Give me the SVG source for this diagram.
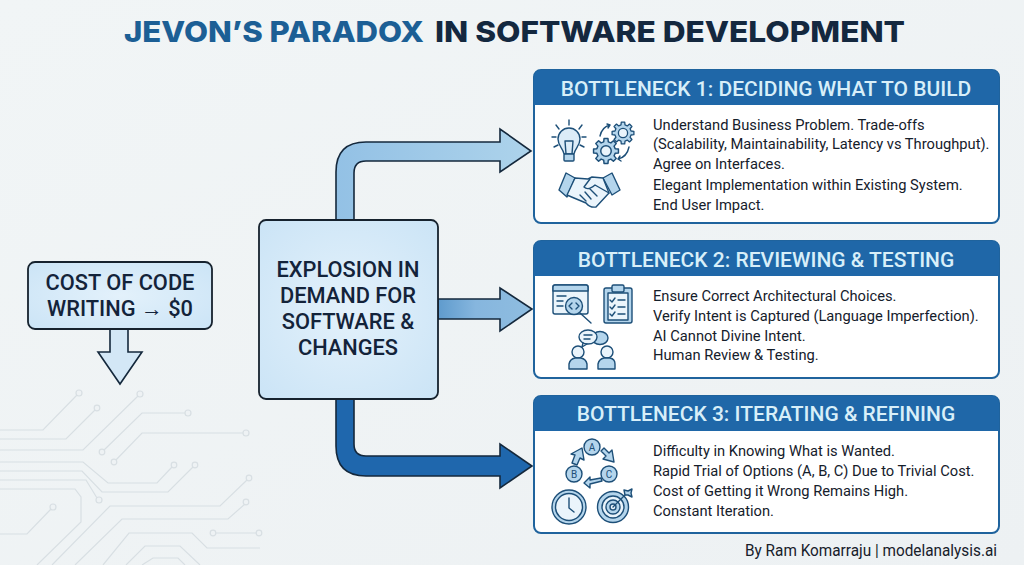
<svg xmlns="http://www.w3.org/2000/svg" width="1024" height="565" viewBox="0 0 1024 565">
<style>
.sans{font-family:"Roboto","Liberation Sans",sans-serif}
.title{font-family:"Inter","Liberation Sans",sans-serif;font-size:29px;font-weight:800}
.hdr{font-family:"Roboto","Liberation Sans",sans-serif;font-size:21px;font-weight:500;fill:#d8eff9;text-anchor:middle}
.body{font-family:"Roboto","Liberation Sans",sans-serif;font-size:14.7px;fill:#15202b}
.big{font-family:"Roboto","Liberation Sans",sans-serif;font-size:21.8px;font-weight:500;fill:#13233a;text-anchor:middle}
.panel{fill:#fff;stroke:#1f639d;stroke-width:2}
.head{fill:#1f67a8}
.arrow{stroke:#14283c;stroke-width:1.6;stroke-linejoin:miter}
.box{fill:url(#boxfill);stroke:#16222e;stroke-width:1.8}
.circ{fill:none;stroke:#d8dfe3;stroke-width:1.2}
.circ circle{fill:#eef2f4}
.ic{fill:#b4d5ec;stroke:#1d4f78;stroke-width:1.4;stroke-linejoin:round;stroke-linecap:round}
.il{fill:none;stroke:#1d4f78;stroke-width:1.4;stroke-linecap:round;stroke-linejoin:round}
.iw{fill:#eaf4fb;stroke:#1d4f78;stroke-width:1.4;stroke-linejoin:round}
</style>
<defs>
<linearGradient id="bg" x1="0" y1="0" x2="1" y2="1"><stop offset="0" stop-color="#f1f5f6"/><stop offset="1" stop-color="#edf1f3"/></linearGradient>
<radialGradient id="boxfill" cx="0.5" cy="0.5" r="0.7"><stop offset="0" stop-color="#e3f1fb"/><stop offset="1" stop-color="#cbe4f6"/></radialGradient>
<linearGradient id="a1" x1="0" y1="0" x2="1" y2="0"><stop offset="0" stop-color="#93c1e5"/><stop offset="1" stop-color="#add3eb"/></linearGradient>
<linearGradient id="a2" x1="0" y1="0" x2="1" y2="0"><stop offset="0" stop-color="#5f9bcd"/><stop offset="0.4" stop-color="#86b6de"/><stop offset="1" stop-color="#8fbde0"/></linearGradient>
<g id="gear"><polygon class="ic" points="-2.18,-8.73 -1.88,-11.85 1.88,-11.85 2.18,-8.73 4.64,-7.71 7.05,-9.71 9.71,-7.05 7.71,-4.64 8.73,-2.18 11.85,-1.88 11.85,1.88 8.73,2.18 7.71,4.64 9.71,7.05 7.05,9.71 4.64,7.71 2.18,8.73 1.88,11.85 -1.88,11.85 -2.18,8.73 -4.64,7.71 -7.05,9.71 -9.71,7.05 -7.71,4.64 -8.73,2.18 -11.85,1.88 -11.85,-1.88 -8.73,-2.18 -7.71,-4.64 -9.71,-7.05 -7.05,-9.71 -4.64,-7.71"/><circle class="iw" r="5"/></g>
</defs>
<rect width="1024" height="565" fill="url(#bg)"/>
<g id="circuit" class="circ">
<path d="M0 430H43L77 395M0 439H66L95 410M0 450H83L138 396M102 452L142 413H186M114 462L142 433H244M0 462H83L108 483H157L172 467M0 471H82L102 492H168L193 467M0 480H86L97 498M0 489H75L81 497V522L37 565M52 565L110 506H220L247 480M75 565L122 519H228L245 504M103 565L129 533H192L207 548H260M126 565L145 546H180L200 565M142 565L153 558H178L185 565M0 534H27L51 509M216 533H258"/>
<circle cx="79" cy="393" r="3"/><circle cx="97" cy="408" r="2.800"/><circle cx="140" cy="394" r="3"/><circle cx="188" cy="413" r="3"/><circle cx="246" cy="433" r="3"/><circle cx="102" cy="452" r="2.800"/><circle cx="114" cy="462" r="2.800"/><circle cx="174" cy="465" r="2.800"/><circle cx="195" cy="465" r="2.800"/><circle cx="249" cy="478" r="2.800"/><circle cx="246" cy="502" r="2.800"/><circle cx="99" cy="500" r="3"/><circle cx="53" cy="507" r="3"/><circle cx="213" cy="533" r="2.800"/><circle cx="259" cy="533" r="2.800"/>
</g>
<g id="title">
<text class="title" x="124" y="42" fill="#1c5f95" textLength="300" lengthAdjust="spacingAndGlyphs">JEVON’S PARADOX</text>
<text class="title" x="435" y="42" fill="#14283f" textLength="470" lengthAdjust="spacingAndGlyphs">IN SOFTWARE DEVELOPMENT</text>
</g>
<g id="connectors">
<path id="arrow-down" class="arrow" fill="#d3e7f6" d="M110 329V352H98L120 384L142 352H128V329"/>
<path id="arrow-top" class="arrow" fill="url(#a1)" d="M336 220V172Q336 142 366 142H500V129L531 151L500 172V161H366Q354 161 354 173V220Z"/>
<path id="arrow-mid" class="arrow" fill="url(#a2)" d="M438 299H500V288L532 309L500 331V319H438Z"/>
<path id="arrow-bot" class="arrow" fill="#1f67ad" d="M336 399V446Q336 476 366 476H500V488L532 466L500 444V456H366Q354 456 354 444V399Z"/>
</g>
<g id="node-cost">
<rect class="box" x="28" y="262" width="184" height="67" rx="7"/>
<text class="big" x="120" y="290">COST OF CODE</text>
<text class="big" x="120" y="316">WRITING → $0</text>
</g>
<g id="node-explosion">
<rect class="box" x="259" y="220" width="179" height="179" rx="7"/>
<text class="big" x="348" y="277">EXPLOSION IN</text>
<text class="big" x="348" y="303">DEMAND FOR</text>
<text class="big" x="348" y="329">SOFTWARE &amp;</text>
<text class="big" x="348" y="355">CHANGES</text>
</g>
<g id="node-b1">
<rect class="panel" x="534" y="70" width="465" height="153" rx="7"/>
<path class="head" d="M534 105V77a7 7 0 0 1 7-7H992a7 7 0 0 1 7 7V105Z"/>
<text class="hdr" x="766" y="96">BOTTLENECK 1: DECIDING WHAT TO BUILD</text>
<text class="body" x="653" y="130">Understand Business Problem. Trade-offs</text>
<text class="body" x="653" y="149">(Scalability, Maintainability, Latency vs Throughput).</text>
<text class="body" x="653" y="169">Agree on Interfaces.</text>
<text class="body" x="653" y="190">Elegant Implementation within Existing System.</text>
<text class="body" x="653" y="210">End User Impact.</text>
<g id="icon-bulb">
<path class="ic" style="fill:#dcecf8" d="M564 154C563 148 558 146 558 139A11 11 0 0 1 580 139C580 146 575 148 574 154Z"/>
<path class="il" d="M566 154L565 141M572 154L573 141M565 141H573"/>
<rect class="ic" x="564" y="154" width="10" height="7" rx="1"/>
<path class="il" d="M569 120V125M556 125L559 129M582 125L579 129M552 137H556M586 137H582M554 147L558 145M584 147L580 145"/>
</g>
<use href="#gear" transform="translate(606 151) scale(1.050)"/>
<use href="#gear" transform="translate(623 133) scale(.92)"/>
<path class="il" d="M600 136Q602 127 610 125M607 124L610 125L608 128M629 147Q627 157 618 159M621 161L618 159L620 156"/>
<g id="icon-hands">
<path class="ic" d="M566 173L575 178L567 197L559 190Z"/>
<path class="ic" d="M612 173L620 190L612 195L603 178Z"/>
<path class="iw" d="M575 178L588 179L592 177L603 178L609 193L596 207Q590 208 586 203L574 198L567 195Z"/>
<path class="il" d="M590 179L584 187Q588 191 595 185L609 193M580 195L586 201M585 192L591 199M590 189L597 196"/>
</g>
</g>
<g id="node-b2">
<rect class="panel" x="534" y="241" width="465" height="137" rx="7"/>
<path class="head" d="M534 276V248a7 7 0 0 1 7-7H992a7 7 0 0 1 7 7V276Z"/>
<text class="hdr" x="766" y="267">BOTTLENECK 2: REVIEWING &amp; TESTING</text>
<text class="body" x="653" y="301">Ensure Correct Architectural Choices.</text>
<text class="body" x="653" y="321">Verify Intent is Captured (Language Imperfection).</text>
<text class="body" x="653" y="341">AI Cannot Divine Intent.</text>
<text class="body" x="653" y="360">Human Review &amp; Testing.</text>
<g id="icon-code">
<rect class="iw" x="553" y="285" width="35" height="29" rx="2"/>
<path class="ic" d="M553 291V287a2 2 0 0 1 2-2H586a2 2 0 0 1 2 2V291Z"/>
<path class="il" d="M557 296H566M557 301H563M557 306H563"/>
<circle class="ic" cx="574" cy="306" r="8.500"/>
<path class="il" d="M572 303L569 306L572 309M576 303L579 306L576 309M580 313L591 323"/>
</g>
<g id="icon-clip">
<rect class="ic" x="604" y="288" width="28" height="35" rx="2"/>
<rect class="iw" x="608" y="293" width="20" height="27"/>
<rect class="ic" x="612" y="285" width="12" height="7" rx="1.500"/>
<path class="il" d="M610 300L612 302L615 298M618 300H625M610 307L612 309L615 305M618 307H625M610 314L612 316L615 312M618 314H625"/>
</g>
<g id="icon-people">
<ellipse class="ic" cx="600" cy="338" rx="8" ry="6.500"/>
<ellipse class="iw" cx="588" cy="337" rx="9" ry="7"/>
<path class="il" d="M584 335H592M584 339H590M583 343L582 347L587 344"/>
<circle class="iw" cx="578" cy="352" r="6"/>
<path class="ic" d="M569 369V364Q570 359 575 358H581Q586 359 587 364V369Z"/>
<circle class="iw" cx="607" cy="352" r="6"/>
<path class="ic" d="M598 369V364Q599 359 604 358H610Q615 359 615 364V369Z"/>
</g>
</g>
<g id="node-b3">
<rect class="panel" x="534" y="396" width="465" height="137" rx="7"/>
<path class="head" d="M534 431V403a7 7 0 0 1 7-7H992a7 7 0 0 1 7 7V431Z"/>
<text class="hdr" x="766" y="421">BOTTLENECK 3: ITERATING &amp; REFINING</text>
<text class="body" x="653" y="456">Difficulty in Knowing What is Wanted.</text>
<text class="body" x="653" y="476">Rapid Trial of Options (A, B, C) Due to Trivial Cost.</text>
<text class="body" x="653" y="496">Cost of Getting it Wrong Remains High.</text>
<text class="body" x="653" y="516">Constant Iteration.</text>
<g id="icon-cycle">
<circle class="ic" cx="592" cy="447" r="8"/><circle class="ic" cx="574" cy="474" r="8"/><circle class="ic" cx="609" cy="474" r="8"/>
<text class="sans" x="592" y="451" font-size="10" fill="#1d4f78" text-anchor="middle">A</text>
<text class="sans" x="574" y="478" font-size="10" fill="#1d4f78" text-anchor="middle">B</text>
<text class="sans" x="609" y="478" font-size="10" fill="#1d4f78" text-anchor="middle">C</text>
<path class="ic" d="M572 463L575 455L571 454L582 448L584 460L580 458L577 465Z"/>
<path class="ic" d="M604 448L609 453L612 450L614 462L603 459L606 456L601 451Z"/>
<path class="ic" d="M602 481L590 484V488L584 483L590 477V480L601 478Z"/>
</g>
<g id="icon-clock">
<circle class="ic" cx="569" cy="507" r="17"/><circle class="iw" cx="569" cy="507" r="13.500"/>
<path class="il" d="M569 498V508L574 512"/>
</g>
<g id="icon-target">
<circle class="ic" cx="613" cy="507" r="15.500"/><circle class="iw" cx="613" cy="507" r="11"/><circle class="ic" cx="613" cy="507" r="7"/><circle class="iw" cx="613" cy="507" r="3"/>
<path class="il" d="M613 507L628 492"/>
<path class="ic" d="M625 495L624 490L628 491L632 489L631 493L632 497L628 495Z"/>
</g>
</g>
<text id="credit" class="sans" x="745" y="556" font-size="15.600" fill="#17202a" textLength="252" lengthAdjust="spacingAndGlyphs">By Ram Komarraju | modelanalysis.ai</text>
</svg>
